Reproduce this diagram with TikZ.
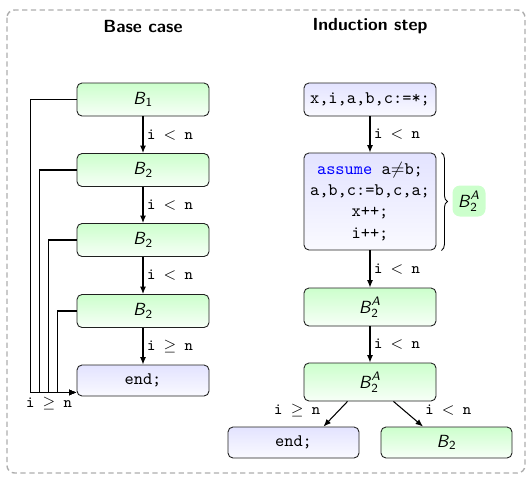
\documentclass[tikz,border=0pt]{standalone}
\usepackage{amsmath}
\usepackage{xcolor}
\usepackage{tikz}
\usetikzlibrary{arrows.meta,positioning,decorations.pathreplacing}
\definecolor{FrameGray}{gray}{0.68}
\definecolor{BlockInk}{HTML}{202020}
\colorlet{GreenTop}{green!20}
\colorlet{GreenBottom}{green!3}
\colorlet{BlueTop}{blue!11}
\colorlet{BlueBottom}{blue!2}
\newcommand{\Blk}[1]{$\textsf{\textit{B}}_{\textsf{#1}}$}
\newcommand{\BlkA}[1]{$\textsf{\textit{B}}_{\textsf{#1}}^{\textsf{\textit{A}}}$}
\newcommand{\Guard}[1]{\texttt{i $#1$ n}}
\tikzset{
  figure/.style={text=black,>={Latex[length=1.5mm,width=1.2mm]}},
  block/.style={draw=BlockInk,line width=0.5pt,rounded corners=1mm,top color=GreenTop,
    bottom color=GreenBottom,minimum width=2.64cm,minimum height=0.66cm,font=\sffamily},
  codeblock/.style={block,top color=BlueTop,bottom color=BlueBottom,font=\ttfamily,align=center},
  flow/.style={->,line width=0.6pt,draw=black},
  guard/.style={font=\small,inner sep=2pt},
  title/.style={font=\sffamily\bfseries},
}

\begin{document}
\begin{tikzpicture}[figure]
  \useasboundingbox (0,0) rectangle (10.56,-9.52);
  \draw[FrameGray,line width=0.8pt,dash pattern=on 3pt off 2pt,rounded corners=1.5mm]
    (0.14,-0.2) rectangle (10.5,-9.46);

  \node[title] (basetitle) at (2.86,-0.52) {Base case};
  \node[title] (steptitle) at (7.40,-0.52) {Induction step};

  % base case: unrolled loop
  \node[block] (B1) at (2.86,-1.99) {\Blk{1}};
  \node[block] (B2a) at (2.86,-3.40) {\Blk{2}};
  \node[block] (B2b) at (2.86,-4.80) {\Blk{2}};
  \node[block] (B2c) at (2.86,-6.22) {\Blk{2}};
  \node[codeblock,minimum height=0.62cm] (endL) at (2.86,-7.61) {end;};
  \draw[flow] (B1) -- node[guard,right] {\Guard{<}} (B2a);
  \draw[flow] (B2a) -- node[guard,right] {\Guard{<}} (B2b);
  \draw[flow] (B2b) -- node[guard,right] {\Guard{<}} (B2c);
  \draw[flow] (B2c) -- node[guard,right] {\Guard{\geq}} (endL);
  \coordinate (into) at ([yshift=0.08cm]endL.south west);
  \foreach \blk/\off in {B1/0.92,B2a/0.74,B2b/0.56,B2c/0.38}
    \draw[flow] (\blk.west) -- ++(-\off,0) |- (into);
  \node[guard] (exitL) at (0.98,-8.08) {\Guard{\geq}};

  % induction step
  \node[codeblock] (init) at (7.40,-1.99) {x,i,a,b,c:=*;};
  \node[codeblock,minimum height=1.94cm] (body) at (7.40,-4.03)
    {\textcolor{blue}{assume} a$\neq$b;\\a,b,c:=b,c,a;\\x++;\\i++;};
  \node[block,minimum height=0.76cm] (A1) at (7.40,-6.14) {\BlkA{2}};
  \node[block,minimum height=0.76cm] (A2) at (7.40,-7.64) {\BlkA{2}};
  \node[codeblock,minimum width=2.62cm,minimum height=0.62cm] (endR) at (5.87,-8.85) {end;};
  \node[block,minimum width=2.62cm,minimum height=0.62cm] (B2R) at (8.93,-8.85) {\Blk{2}};
  \draw[flow] (init) -- node[guard,right] {\Guard{<}} (body);
  \draw[flow] (body) -- node[guard,right] {\Guard{<}} (A1);
  \draw[flow] (A1) -- node[guard,right] {\Guard{<}} (A2);
  \draw[flow] ([xshift=-0.45cm]A2.south) -- node[guard,pos=0.35,left=0.3cm] {\Guard{\geq}}
    ([xshift=0.6cm]endR.north);
  \draw[flow] ([xshift=0.47cm]A2.south) -- node[guard,pos=0.35,right=0.35cm] {\Guard{<}}
    ([xshift=-0.47cm]B2R.north);
  \draw[decorate,decoration={brace,amplitude=0.12cm},line width=0.5pt]
    ([xshift=0.1cm]body.north east) -- ([xshift=0.1cm]body.south east);
  \node[fill=GreenTop,rounded corners=1.5mm,font=\sffamily,minimum width=0.66cm,
        minimum height=0.62cm,inner sep=2pt] (bodyname) at (9.38,-4.02) {\BlkA{2}};
\end{tikzpicture}
\end{document}
